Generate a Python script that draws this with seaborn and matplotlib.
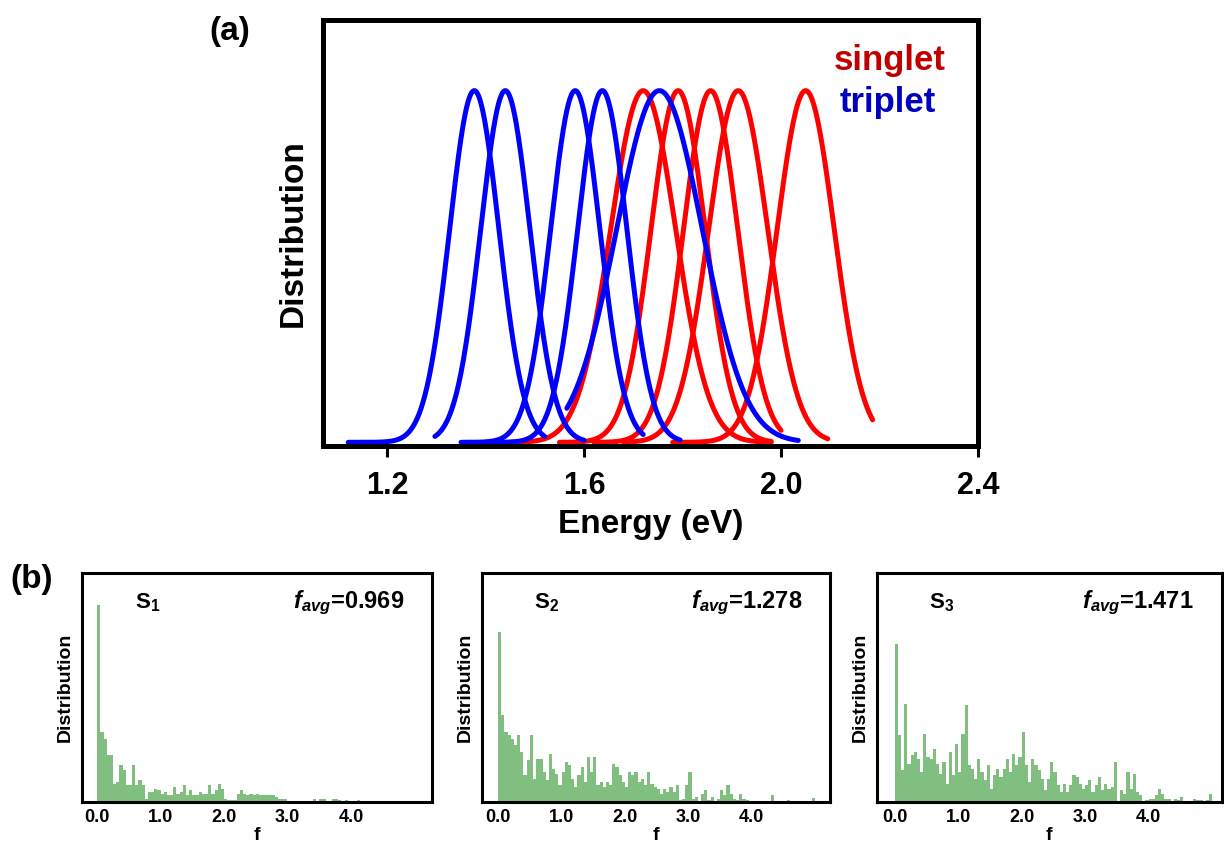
import numpy as np
import pandas as pd
import matplotlib
matplotlib.use("Agg")
import matplotlib.pyplot as plt
import seaborn as sns

# ---------------- data ----------------
# (a) excitation-energy distributions: peak position, width and plotted range (eV)
singlet_centers = [1.720, 1.791, 1.857, 1.913, 2.050]
singlet_widths = [0.066, 0.055, 0.055, 0.060, 0.058]
singlet_lo = [1.45, 1.55, 1.62, 1.68, 1.78]
singlet_hi = [1.98, 1.98, 2.00, 2.095, 2.186]

triplet_centers = [1.377, 1.440, 1.582, 1.637, 1.753]
triplet_widths = [0.050, 0.050, 0.050, 0.050, 0.087]
triplet_lo = [1.121, 1.297, 1.35, 1.40, 1.565]
triplet_hi = [1.52, 1.60, 1.72, 1.795, 2.035]

energy_ticks = [1.2, 1.6, 2.0, 2.4]

# (b) oscillator-strength histograms, bin width 0.05 from 0 to 5
f_bin_width = 0.05
s1_counts = [197, 70, 63, 47, 47, 18, 20, 37, 32, 17,
             17, 37, 17, 22, 17, 3, 10, 10, 13, 12,
             8, 10, 7, 7, 15, 8, 10, 17, 7, 12,
             7, 7, 10, 8, 8, 17, 8, 12, 18, 13,
             3, 2, 2, 2, 8, 12, 8, 7, 8, 7,
             8, 7, 7, 7, 7, 7, 5, 3, 3, 3,
             1, 1, 1, 1, 1, 1, 1, 1, 3, 1,
             3, 3, 1, 1, 3, 3, 2, 1, 2, 1,
             1, 1, 2, 1, 0, 0, 0, 0, 0, 0,
             0, 0, 0, 0, 0, 0, 0, 0, 1, 1]
s2_counts = [170, 87, 70, 67, 63, 57, 67, 50, 27, 42,
             67, 23, 43, 43, 30, 22, 48, 33, 28, 17,
             30, 40, 37, 23, 15, 27, 35, 20, 45, 30,
             45, 17, 20, 15, 20, 17, 38, 35, 27, 20,
             15, 30, 27, 30, 20, 23, 17, 30, 18, 15,
             13, 8, 13, 10, 15, 10, 17, 2, 3, 17,
             30, 3, 5, 1, 8, 12, 2, 5, 1, 3,
             12, 7, 17, 8, 3, 2, 8, 3, 2, 1,
             1, 1, 1, 1, 1, 1, 7, 1, 1, 1,
             1, 2, 0, 0, 0, 0, 0, 0, 0, 4]
s3_counts = [158, 67, 32, 98, 38, 47, 50, 43, 30, 68,
             45, 43, 53, 38, 28, 40, 18, 50, 27, 58,
             30, 68, 97, 37, 33, 23, 43, 30, 22, 37,
             13, 27, 33, 25, 33, 43, 30, 48, 37, 45,
             70, 37, 20, 43, 37, 32, 23, 12, 23, 40,
             30, 17, 10, 18, 10, 17, 27, 25, 18, 13,
             17, 22, 10, 17, 25, 12, 18, 13, 15, 40,
             0, 12, 8, 30, 13, 28, 10, 7, 0, 2,
             3, 3, 7, 13, 8, 3, 3, 0, 3, 2,
             5, 0, 0, 0, 3, 2, 2, 0, 2, 8]
state_names = ["S$_\\mathbf{1}$", "S$_\\mathbf{2}$", "S$_\\mathbf{3}$"]
f_avg = ["0.969", "1.278", "1.471"]
f_ticks = [0.0, 1.0, 2.0, 3.0, 4.0]

# ---------------- style ----------------
sns.set_theme(style="white")
plt.rcParams["font.family"] = ["Liberation Sans", "DejaVu Sans"]
plt.rcParams["text.color"] = "black"
plt.rcParams["axes.labelcolor"] = "black"
plt.rcParams["xtick.color"] = "black"
plt.rcParams["ytick.color"] = "black"
plt.rcParams["mathtext.fontset"] = "custom"
plt.rcParams["mathtext.rm"] = "Liberation Sans"
plt.rcParams["mathtext.bf"] = "Liberation Sans:bold"
plt.rcParams["mathtext.it"] = "Liberation Sans:italic"
plt.rcParams["mathtext.bfit"] = "Liberation Sans:bold:italic"

fig = plt.figure(figsize=(12.24, 8.46), dpi=100)

# ---------------- (a) energy distributions ----------------
rows = []
for state, cs, ws, los, his in [
    ("singlet", singlet_centers, singlet_widths, singlet_lo, singlet_hi),
    ("triplet", triplet_centers, triplet_widths, triplet_lo, triplet_hi),
]:
    for i, (c, w, lo, hi) in enumerate(zip(cs, ws, los, his)):
        e = np.linspace(lo, hi, 400)
        d = np.exp(-0.5 * ((e - c) / w) ** 2)
        for ei, di in zip(e, d):
            rows.append((state, f"{state}{i}", ei, di))
curves = pd.DataFrame(rows, columns=["state", "curve", "energy", "dist"])

ax = fig.add_axes([0.264, 0.473, 0.535, 0.503])
sns.lineplot(data=curves, x="energy", y="dist", hue="state", units="curve",
             estimator=None, sort=False, hue_order=["singlet", "triplet"],
             palette={"singlet": "#ff0000", "triplet": "#0000ff"},
             linewidth=3.6, legend=False, ax=ax)
ax.set_xlim(1.07, 2.4)
ax.set_ylim(-0.01, 1.2)
ax.set_xticks(energy_ticks)
ax.set_xticklabels([f"{t:.1f}" for t in energy_ticks], fontsize=22, fontweight="bold")
ax.set_yticks([])
ax.tick_params(axis="x", direction="out", length=8, width=2.2, color="black",
               bottom=True, pad=10)
ax.set_xlabel("Energy (eV)", fontsize=24, fontweight="bold", labelpad=6)
ax.set_ylabel("Distribution", fontsize=24, fontweight="bold", labelpad=10)
for sp in ax.spines.values():
    sp.set_visible(True)
    sp.set_linewidth(3.6)
    sp.set_color("black")
ax.text(0.950, 0.883, "singlet", transform=ax.transAxes, ha="right", va="baseline",
        fontsize=25, fontweight="bold", color="#c00000")
ax.text(0.935, 0.784, "triplet", transform=ax.transAxes, ha="right", va="baseline",
        fontsize=25, fontweight="bold", color="#0000c0")
fig.text(0.188, 0.963, "(a)", fontsize=24, fontweight="bold", ha="center", va="center")
fig.text(0.026, 0.315, "(b)", fontsize=24, fontweight="bold", ha="center", va="center")

# ---------------- (b) oscillator-strength histograms ----------------
n_bins = len(s1_counts)
centers = (np.arange(n_bins) + 0.5) * f_bin_width
panels = [
    ([0.067, 0.052, 0.286, 0.271], (-0.24, 5.28), s1_counts),
    ([0.394, 0.052, 0.284, 0.271], (-0.25, 5.23), s2_counts),
    ([0.7165, 0.052, 0.2815, 0.271], (-0.28, 5.15), s3_counts),
]
for k, (pos, xlim, counts) in enumerate(panels):
    hax = fig.add_axes(pos)
    hist_df = pd.DataFrame({"f": centers, "count": np.asarray(counts, dtype=float)})
    sns.histplot(data=hist_df, x="f", weights="count", binwidth=f_bin_width,
                 binrange=(0, n_bins * f_bin_width), ax=hax,
                 color="#80bf80", alpha=1.0, linewidth=0)
    hax.set_xlim(*xlim)
    hax.set_ylim(0, 229)
    hax.set_xticks(f_ticks)
    hax.set_xticklabels([f"{t:.1f}" for t in f_ticks], fontsize=13, fontweight="bold")
    hax.set_yticks([])
    hax.tick_params(axis="x", length=0, pad=5)
    hax.set_xlabel("f", fontsize=14, fontweight="bold", labelpad=1)
    hax.set_ylabel("Distribution", fontsize=14, fontweight="bold", labelpad=6)
    for sp in hax.spines.values():
        sp.set_visible(True)
        sp.set_linewidth(2.2)
        sp.set_color("black")
    hax.text(0.15, 0.87, state_names[k], transform=hax.transAxes, ha="left",
             va="center", fontsize=16, fontweight="bold")
    hax.text(0.92, 0.87, r"$\mathbfit{f}_{\mathbfit{avg}}$" + "=" + f_avg[k],
             transform=hax.transAxes, ha="right", va="center",
             fontsize=17, fontweight="bold")

fig.savefig("out.png", dpi=100, facecolor="white")
